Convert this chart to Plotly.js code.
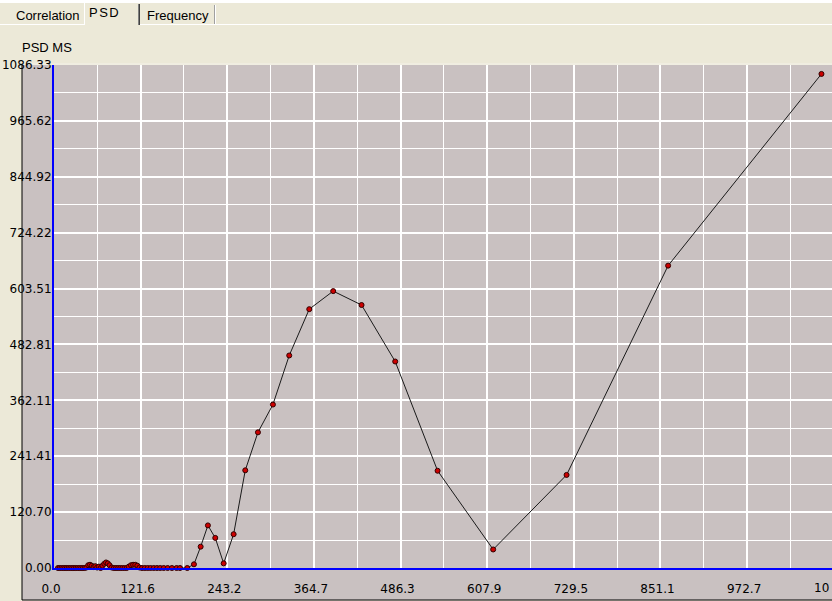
<!DOCTYPE html>
<html>
<head>
<meta charset="utf-8">
<script src="https://cdn.plot.ly/plotly-3.0.1.min.js"></script>
<style>
  html, body { margin:0; padding:0; width:832px; height:601px; overflow:hidden; background:#ECE9D8; }
  #chart { position:absolute; left:0; top:0; width:834px; height:601px; }
  .ov { position:absolute; font-family:"Liberation Sans", Arial, sans-serif; font-size:13px; line-height:13px; color:#000; white-space:nowrap; z-index:5; }
  .bar { position:absolute; z-index:5; }
</style>
</head>
<body>
<div id="chart"></div>
<div class="bar" style="left:0;top:0;width:832px;height:3px;background:#ffffff;"></div>
<div class="bar" style="left:0;top:24px;width:85px;height:1px;background:#ffffff;"></div>
<div class="bar" style="left:140px;top:24px;width:692px;height:1px;background:#ffffff;"></div>
<div class="bar" style="left:84px;top:3px;width:1px;height:22px;background:#ffffff;"></div>
<div class="bar" style="left:138px;top:4px;width:1px;height:21px;background:#808080;"></div>
<div class="bar" style="left:139px;top:4px;width:1px;height:21px;background:#404040;"></div>
<div class="bar" style="left:214px;top:5px;width:1px;height:19px;background:#a0a0a0;"></div>
<div class="bar" style="left:215px;top:5px;width:1px;height:19px;background:#ffffff;"></div>
<div class="ov" style="left:16px;top:9px;">Correlation</div>
<div class="ov" style="left:89px;top:6px;letter-spacing:1.5px;">PSD</div>
<div class="ov" style="left:147px;top:9px;">Frequency</div>
<div class="ov" style="left:22px;top:41px;">PSD MS</div>
<script>
// frequency values (x) and PSD MS values (y)
const freq = [5.6, 8, 10.5, 13, 15.5, 18, 20.5, 23, 25.5, 28, 30.5, 33, 35.5, 38, 40.5, 43,
  45.5, 48, 50.5, 53, 55.5, 58, 60.5, 63, 65.5, 68, 70.5, 73, 75.5, 78, 81, 84,
  87, 90, 93, 96, 99, 102, 105, 108, 111, 114, 117, 120,
  123.5, 127.5, 131.5, 135.5, 140, 144.5, 149, 154, 159.5, 165.5, 172,
  176.8, 187.0, 196.4, 205.8, 216.0, 226.3, 238.1, 252.1, 268.4, 286.2, 307.2,
  330.1, 358.2, 391.8, 431.6, 478.8, 538.3, 616.3, 719.3, 861.8, 1077.0];
const psd = [0, 0, 0, 0, 0, 0, 0, 0, 0, 0, 0, 0, 0, 0, 0, 0,
  1, 6, 7, 5, 2, 4, 1, 3, 0, 5, 9, 12, 10, 6, 1, 0,
  0, 0, 0, 0, 0, 0, 3, 6, 7, 7, 5, 1,
  0, 0, 0, 0, 0, 0, 0, 0, 0, 0, 0,
  0, 0, 8, 46, 92, 65, 10, 73, 211, 293, 353,
  459, 559, 598, 568, 446, 210, 40, 201, 653, 1067];

const xTickVals = [0, 121.6, 243.2, 364.7, 486.3, 607.9, 729.5, 851.1, 972.7, 1094.3];
const xTickText = ["0.0", "121.6", "243.2", "364.7", "486.3", "607.9", "729.5", "851.1", "972.7", ""];
const xEdgeLabel = "10";   // the last x label, cut by the picture's right edge in the reference
const yTickVals = [0, 120.70, 241.41, 362.11, 482.81, 603.51, 724.22, 844.92, 965.62, 1086.33];
const yTickText = ["0.00", "120.70", "241.41", "362.11", "482.81", "603.51", "724.22", "844.92", "965.62", "1086.33"];

const gray = '#C9C1C1';
const tickFont = {family: 'DejaVu Sans, sans-serif', size: 12, color: '#000'};

const trace = {
  x: freq, y: psd, type: 'scatter', mode: 'lines+markers',
  line: {color: '#1a1a1a', width: 1},
  marker: {size: 5, color: '#CC0000', line: {color: '#300000', width: 1}},
  cliponaxis: false, hoverinfo: 'none'
};

const layout = {
  width: 834, height: 601,
  margin: {l: 54, r: 0, t: 65, b: 33, pad: 0},
  paper_bgcolor: '#ECE9D8', plot_bgcolor: gray,
  showlegend: false,
  xaxis: {
    range: [0, 1094.6], tickmode: 'array', tickvals: xTickVals, ticktext: xTickText,
    showgrid: true, gridcolor: '#ffffff', gridwidth: 2, zeroline: false,
    showline: true, linecolor: '#0000FF', linewidth: 2, ticks: '',
    tickfont: tickFont, ticklabelstandoff: 9, ticklabelshift: -3,
    minor: {dtick: 60.795, tick0: 0, showgrid: true, gridcolor: '#ffffff', gridwidth: 1, ticks: ''},
    fixedrange: true
  },
  yaxis: {
    range: [0, 1086.33], tickmode: 'array', tickvals: yTickVals, ticktext: yTickText,
    showgrid: true, gridcolor: '#ffffff', gridwidth: 2, zeroline: false,
    showline: true, linecolor: '#0000FF', linewidth: 2, ticks: '',
    tickfont: tickFont, ticklabelstandoff: -2,
    minor: {dtick: 60.3517, tick0: 0, showgrid: true, gridcolor: '#ffffff', gridwidth: 1, ticks: ''},
    fixedrange: true
  },
  annotations: [
    {text: xEdgeLabel, xref: 'paper', yref: 'paper', x: (831 - 54) / 780, y: -20 / 503,
     xanchor: 'right', yanchor: 'middle', showarrow: false, font: tickFont}
  ],
  shapes: [
    {type: 'rect', xref: 'paper', yref: 'paper', x0: -32/780, x1: 1.01, y0: -32/503, y1: 1,
     fillcolor: gray, line: {width: 0}, layer: 'below'},
    {type: 'line', xref: 'paper', yref: 'paper', x0: -32/780, x1: -32/780, y0: -32/503, y1: 1,
     line: {color: '#000000', width: 1}, layer: 'below'},
    {type: 'line', xref: 'paper', yref: 'paper', x0: -32/780, x1: 1.01, y0: -32/503, y1: -32/503,
     line: {color: '#000000', width: 1}, layer: 'below'},
    {type: 'line', xref: 'paper', yref: 'paper', x0: -32/780, x1: 1.01, y0: 1.002, y1: 1.002,
     line: {color: '#F4F2EA', width: 1}, layer: 'below'}
  ]
};

Plotly.newPlot('chart', [trace], layout, {displayModeBar: false, staticPlot: true});
</script>
</body>
</html>
